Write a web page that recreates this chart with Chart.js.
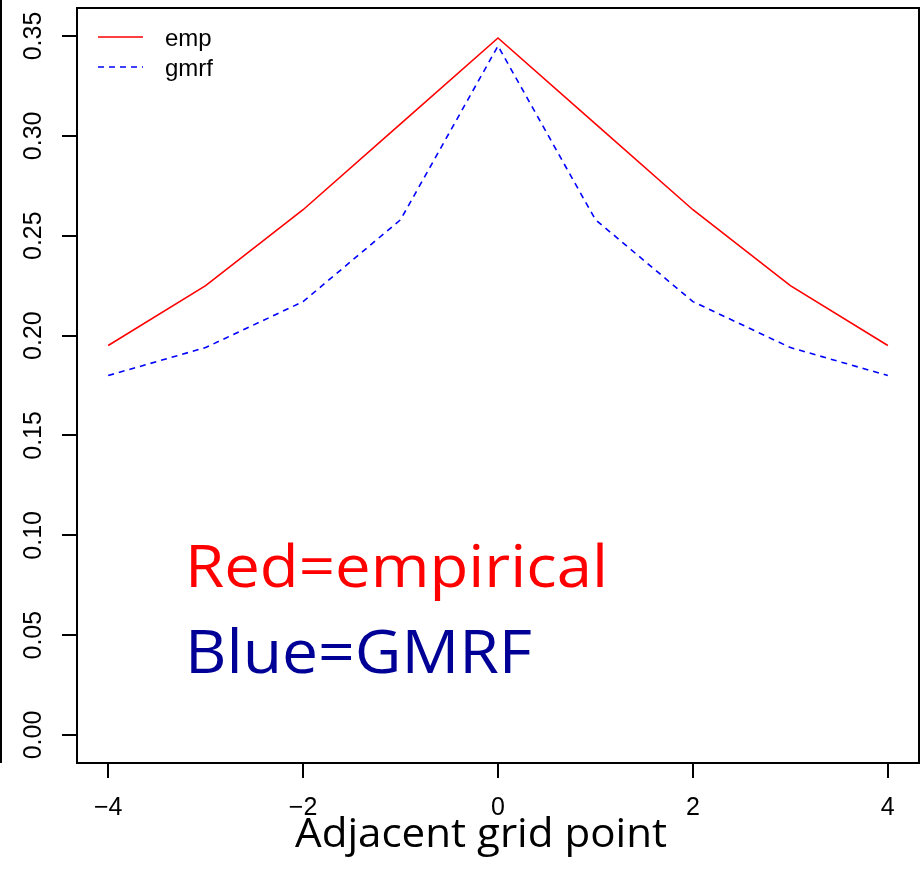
<!DOCTYPE html>
<html>
<head>
<meta charset="utf-8">
<script src="https://cdn.jsdelivr.net/npm/chart.js@4.4.1/dist/chart.umd.min.js"></script>
<style>
  html, body { margin: 0; padding: 0; background: #fff; }
  #wrap { width: 922px; height: 870px; }
</style>
</head>
<body>
<div id="wrap"><canvas id="myChart"></canvas></div>
<script>
// grid offsets and the two correlation curves
var lags = [-4, -3, -2, -1, 0, 1, 2, 3, 4];
var empValues = [0.195, 0.225, 0.263, 0.306, 0.349, 0.306, 0.263, 0.225, 0.195];
var gmrfValues = [0.180, 0.194, 0.217, 0.258, 0.345, 0.258, 0.217, 0.194, 0.180];
var xTicks = [-4, -2, 0, 2, 4];
var yTicks = [0, 0.05, 0.10, 0.15, 0.20, 0.25, 0.30, 0.35];

const axisFont = '25px "Liberation Sans", Arial, sans-serif';
const noteFamily = '"Open Sans", Lato, sans-serif';

const toPoints = function (ys) {
  return lags.map(function (x, i) { return { x: x, y: ys[i] }; });
};

// draw text squeezed/stretched to a given width
const fitText = function (ctx, text, x, y, width, size, color) {
  ctx.save();
  ctx.font = size + 'px ' + noteFamily;
  ctx.fillStyle = color;
  ctx.textAlign = 'left';
  ctx.textBaseline = 'alphabetic';
  var w = ctx.measureText(text).width;
  ctx.translate(x, y);
  ctx.scale(width / w, 1);
  ctx.fillText(text, 0, 0);
  ctx.restore();
};

// box, rotated tick labels, legend and the note text
const rPlot = {
  id: 'rPlot',
  afterDraw: function (chart) {
    var ctx = chart.ctx;
    var a = chart.chartArea;
    var xs = chart.scales.x, ys = chart.scales.y;
    ctx.save();

    ctx.strokeStyle = '#000';
    ctx.lineWidth = 2;
    ctx.strokeRect(a.left, a.top, a.right - a.left, a.bottom - a.top);

    // stray frame edge on the far left
    ctx.beginPath();
    ctx.moveTo(1, 0);
    ctx.lineTo(1, a.bottom);
    ctx.stroke();

    ctx.fillStyle = '#000';
    ctx.font = axisFont;
    ctx.textAlign = 'center';
    ctx.textBaseline = 'middle';
    yTicks.forEach(function (v) {
      ctx.save();
      ctx.translate(34, ys.getPixelForValue(v));
      ctx.rotate(-Math.PI / 2);
      ctx.fillText(v.toFixed(2), 0, 0);
      ctx.restore();
    });
    xTicks.forEach(function (v) {
      var s = v < 0 ? '\u2212' + Math.abs(v) : String(v);
      ctx.fillText(s, xs.getPixelForValue(v), 808);
    });

    // legend
    ctx.textAlign = 'left';
    ctx.textBaseline = 'alphabetic';
    ctx.font = '24px "Liberation Sans", Arial, sans-serif';
    chart.data.datasets.forEach(function (ds, i) {
      var y = 37 + i * 30;
      ctx.strokeStyle = ds.borderColor;
      ctx.lineWidth = ds.borderWidth;
      ctx.setLineDash(ds.borderDash || []);
      ctx.beginPath();
      ctx.moveTo(98, y);
      ctx.lineTo(143, y);
      ctx.stroke();
      ctx.setLineDash([]);
      ctx.fillStyle = '#000';
      ctx.fillText(ds.label, 165, y + 9);
    });
    ctx.restore();

    fitText(ctx, 'Red=empirical', 185, 587, 423, 59, '#ff0000');
    fitText(ctx, 'Blue=GMRF', 185, 673, 347, 61, '#000096');
    fitText(ctx, 'Adjacent grid point', 295, 847, 372, 41, '#000');
  }
};

var ctx = document.getElementById('myChart').getContext('2d');
var chart = new Chart(ctx, {
  type: 'line',
  data: {
    datasets: [{
      label: 'emp',
      data: toPoints(empValues),
      borderColor: '#ff0000',
      borderWidth: 1.6,
      pointRadius: 0,
      tension: 0,
      fill: false
    }, {
      label: 'gmrf',
      data: toPoints(gmrfValues),
      borderColor: '#0000ff',
      borderWidth: 1.6,
      borderDash: [6, 5],
      pointRadius: 0,
      tension: 0,
      fill: false
    }]
  },
  options: {
    responsive: true,
    maintainAspectRatio: false,
    animation: false,
    layout: { padding: { top: 8, right: 3, left: 0, bottom: 0 } },
    plugins: { legend: { display: false }, tooltip: { enabled: false } },
    scales: {
      x: {
        type: 'linear',
        min: -4.32,
        max: 4.32,
        afterBuildTicks: function (s) { s.ticks = xTicks.map(function (v) { return { value: v }; }); },
        afterFit: function (s) { s.height = 107; },
        ticks: { display: false },
        grid: { drawOnChartArea: false, drawTicks: true, tickLength: 15, color: '#000', lineWidth: 2 },
        border: { display: false }
      },
      y: {
        min: -0.014,
        max: 0.364,
        afterBuildTicks: function (s) { s.ticks = yTicks.map(function (v) { return { value: v }; }); },
        afterFit: function (s) { s.width = 77; },
        ticks: { display: false },
        grid: { drawOnChartArea: false, drawTicks: true, tickLength: 15, color: '#000', lineWidth: 2 },
        border: { display: false }
      }
    }
  },
  plugins: [rPlot]
});
</script>
</body>
</html>
